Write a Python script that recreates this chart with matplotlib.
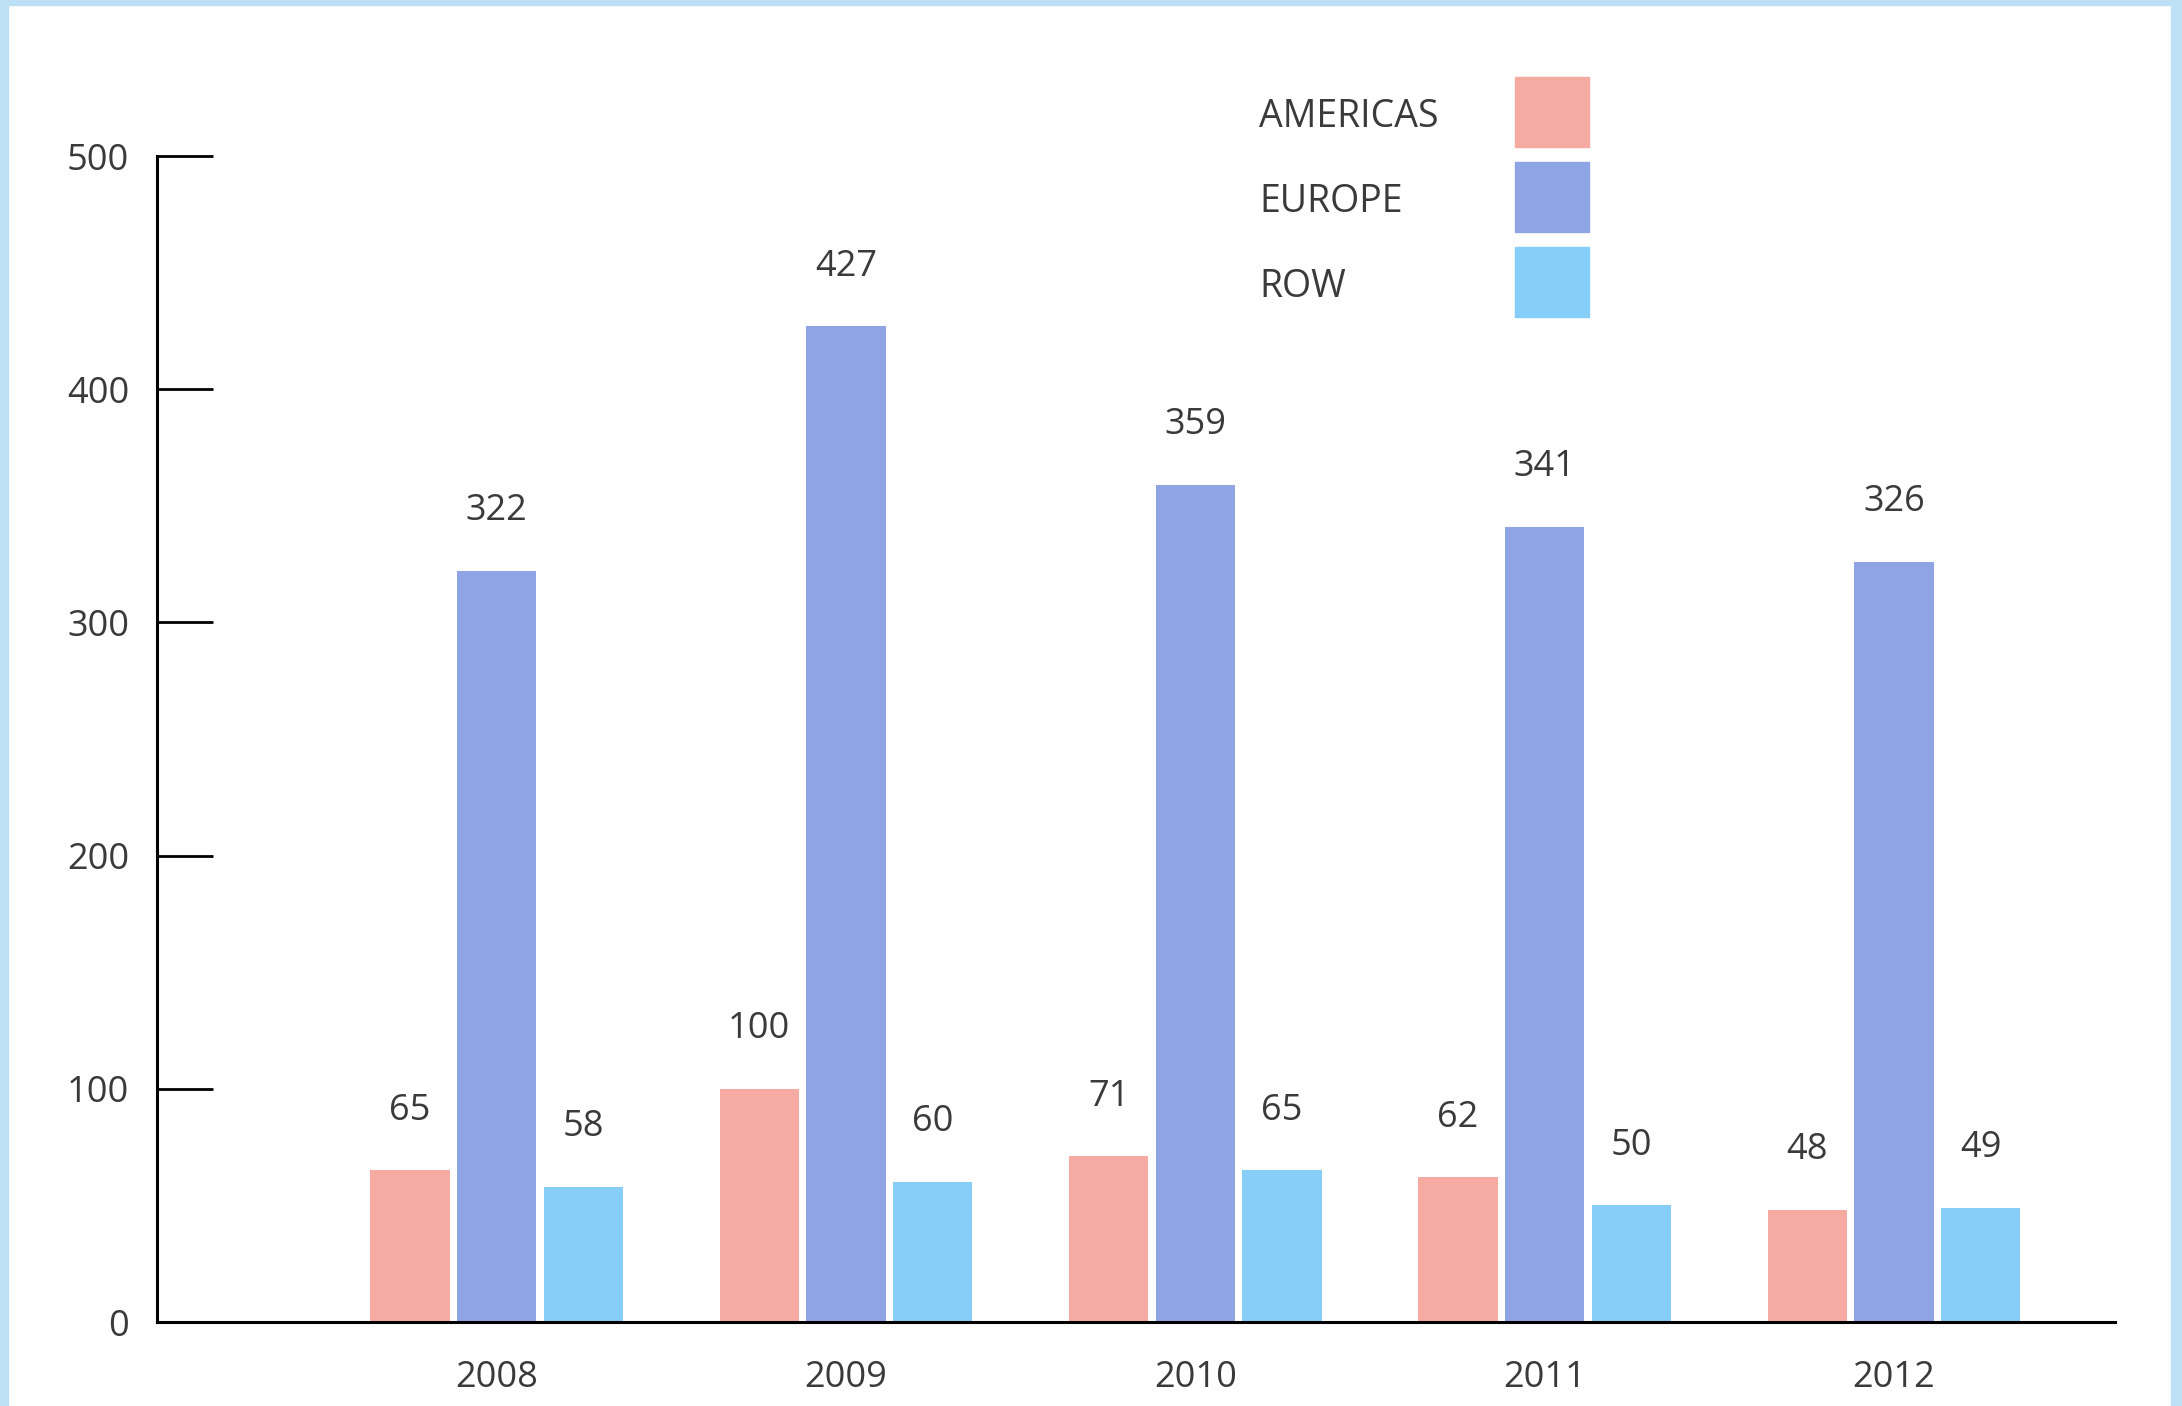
import numpy as np
import matplotlib.pyplot as plt
from matplotlib.patches import Rectangle

years = ['2008', '2009', '2010', '2011', '2012']
americas = [65, 100, 71, 62, 48]
europe = [322, 427, 359, 341, 326]
row = [58, 60, 65, 50, 49]
regions = ['AMERICAS', 'EUROPE', 'ROW']
colors = ['#f6aba2', '#8fa4e4', '#86cef8']
yticks = [0, 100, 200, 300, 400, 500]

plt.rcParams['font.family'] = ['Open Sans', 'DejaVu Sans']
txt = '#3a3a3a'

fig = plt.figure(figsize=(21.82, 14.06), dpi=100)
ax = fig.add_axes([0.072, 0.0597, 0.8973, 0.8293])

x = np.arange(len(years))
w = 0.227
step = 0.248
for k, vals in enumerate([americas, europe, row]):
    pos = x + (k - 1) * step
    ax.bar(pos, vals, width=w, color=colors[k], zorder=2)
    for p, v in zip(pos, vals):
        ax.annotate(str(v), (p, v), xytext=(0, 43), textcoords='offset points',
                    ha='center', va='center', fontsize=26, color=txt)

ax.set_xlim(-0.972, 4.633)
ax.set_ylim(0, 500)
ax.set_xticks(x)
ax.set_xticklabels(years)
ax.set_yticks(yticks)
ax.tick_params(axis='x', length=0, pad=27, labelsize=26, labelcolor=txt)
ax.tick_params(axis='y', direction='in', length=40, width=2, pad=20,
               labelsize=26, labelcolor=txt)
for s in ['top', 'right']:
    ax.spines[s].set_visible(False)
ax.spines['left'].set_linewidth(2.2)
ax.spines['bottom'].set_linewidth(2.2)
ax.spines['bottom'].set_zorder(3)

# legend: labels on the left, colour swatches on the right
for k, name in enumerate(regions):
    yc = 0.920 - k * 0.0604
    fig.text(1259 / 2182, yc - 0.003, name, fontsize=27, color=txt, ha='left', va='center')
    fig.patches.append(Rectangle((1515 / 2182, yc - 0.0249), 74 / 2182, 0.0498,
                                 transform=fig.transFigure, color=colors[k]))

# light blue frame
frame = '#bde0f6'
fig.patches.append(Rectangle((0, 0), 8 / 2182, 1, transform=fig.transFigure, color=frame))
fig.patches.append(Rectangle((2171 / 2182, 0), 11 / 2182, 1, transform=fig.transFigure, color=frame))
fig.patches.append(Rectangle((0, 1 - 5 / 1406), 1, 5 / 1406, transform=fig.transFigure, color=frame))

fig.savefig('out.png', dpi=100)
